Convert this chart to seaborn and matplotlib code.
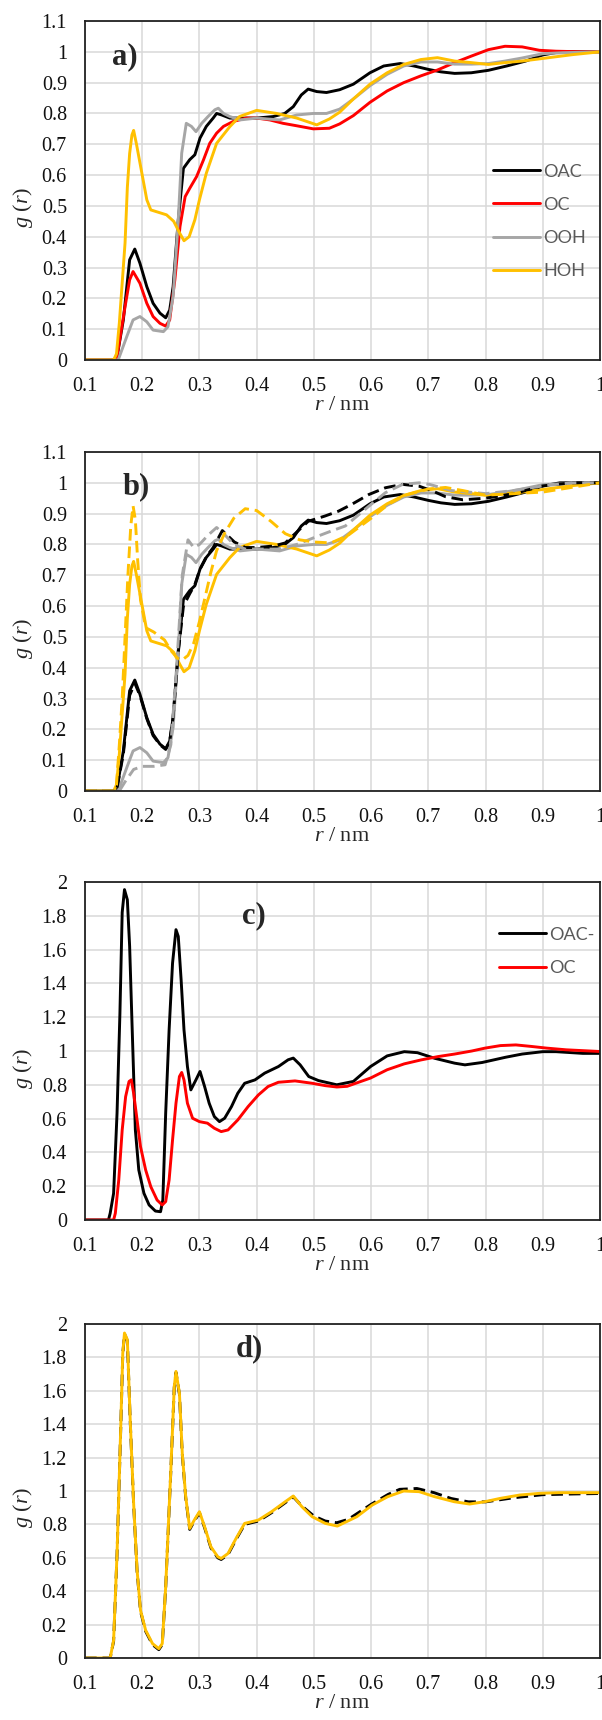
import numpy as np
import pandas as pd
import matplotlib
matplotlib.use("Agg")
import matplotlib.pyplot as plt
import seaborn as sns

# ---------------- data ----------------
# panel a (also the solid curves of panel b)
a_oac_r = [0.10, 0.155, 0.167, 0.178, 0.187, 0.196, 0.208, 0.219, 0.231, 0.241, 0.248, 0.254, 0.263, 0.272, 0.283,
           0.292, 0.301, 0.312, 0.324, 0.33, 0.339, 0.353, 0.371, 0.40, 0.429, 0.449, 0.464, 0.478, 0.49, 0.505,
           0.522, 0.545, 0.569, 0.598, 0.622, 0.651, 0.675, 0.70, 0.722, 0.746, 0.775, 0.805, 0.837, 0.87, 0.90,
           0.93, 0.96, 1.0]
a_oac_g = [0, 0, 0.13, 0.325, 0.36, 0.314, 0.238, 0.184, 0.152, 0.137, 0.162, 0.238, 0.455, 0.622, 0.65,
           0.666, 0.72, 0.758, 0.785, 0.80, 0.795, 0.785, 0.785, 0.785, 0.79, 0.80, 0.822, 0.86, 0.879, 0.871,
           0.868, 0.877, 0.895, 0.932, 0.954, 0.962, 0.954, 0.943, 0.935, 0.93, 0.932, 0.94, 0.954, 0.97, 0.99,
           1.0, 1.0, 1.0]

a_oc_r = [0.10, 0.155, 0.17, 0.178, 0.184, 0.196, 0.208, 0.219, 0.231, 0.241, 0.248, 0.257, 0.266, 0.275, 0.283,
          0.295, 0.307, 0.318, 0.33, 0.342, 0.359, 0.382, 0.40, 0.423, 0.446, 0.47, 0.499, 0.527, 0.545, 0.569,
          0.598, 0.628, 0.657, 0.687, 0.716, 0.746, 0.775, 0.805, 0.834, 0.864, 0.894, 0.923, 0.97, 1.0]
a_oc_g = [0, 0, 0.173, 0.26, 0.287, 0.249, 0.184, 0.141, 0.119, 0.11, 0.13, 0.26, 0.433, 0.53, 0.557,
          0.595, 0.649, 0.703, 0.736, 0.758, 0.774, 0.785, 0.785, 0.779, 0.768, 0.76, 0.75, 0.752, 0.766, 0.793,
          0.836, 0.873, 0.90, 0.922, 0.941, 0.965, 0.986, 1.007, 1.018, 1.016, 1.005, 1.002, 1.0, 1.0]

a_ooh_r = [0.10, 0.158, 0.173, 0.184, 0.196, 0.208, 0.219, 0.237, 0.245, 0.254, 0.263, 0.269, 0.277, 0.286, 0.294,
           0.304, 0.315, 0.327, 0.333, 0.342, 0.353, 0.371, 0.40, 0.44, 0.47, 0.499, 0.522, 0.545, 0.569, 0.598,
           0.628, 0.657, 0.687, 0.716, 0.746, 0.775, 0.805, 0.834, 0.864, 0.90, 0.935, 1.0]
a_ooh_g = [0, 0, 0.076, 0.13, 0.141, 0.124, 0.097, 0.092, 0.108, 0.206, 0.455, 0.671, 0.768, 0.758, 0.741,
           0.768, 0.79, 0.812, 0.817, 0.80, 0.79, 0.779, 0.785, 0.779, 0.795, 0.80, 0.80, 0.814, 0.847, 0.89,
           0.927, 0.954, 0.967, 0.967, 0.96, 0.96, 0.962, 0.97, 0.98, 0.994, 0.997, 1.0]

a_hoh_r = [0.10, 0.15, 0.155, 0.16, 0.165, 0.17, 0.174, 0.178, 0.182, 0.185, 0.19, 0.20, 0.208, 0.215, 0.2425,
           0.255, 0.266, 0.273, 0.282, 0.292, 0.30, 0.312, 0.33, 0.353, 0.37, 0.40, 0.435, 0.47, 0.505, 0.527,
           0.545, 0.569, 0.598, 0.628, 0.657, 0.687, 0.716, 0.746, 0.775, 0.805, 0.834, 0.864, 0.894, 0.923,
           0.953, 1.0]
a_hoh_g = [0, 0, 0.02, 0.12, 0.25, 0.38, 0.56, 0.67, 0.73, 0.745, 0.70, 0.60, 0.52, 0.487, 0.471,
           0.45, 0.41, 0.387, 0.40, 0.455, 0.52, 0.606, 0.703, 0.757, 0.79, 0.81, 0.80, 0.785, 0.763, 0.782,
           0.804, 0.847, 0.895, 0.932, 0.959, 0.975, 0.981, 0.97, 0.965, 0.959, 0.965, 0.97, 0.977, 0.984,
           0.991, 1.0]

# panel b dashed curves
b_oac_r = [0.10, 0.155, 0.167, 0.178, 0.187, 0.196, 0.208, 0.219, 0.231, 0.241, 0.248, 0.254, 0.263, 0.272,
           0.283, 0.292, 0.301, 0.312, 0.324, 0.34, 0.361, 0.38, 0.40, 0.43, 0.45, 0.47, 0.49, 0.519, 0.543,
           0.566, 0.596, 0.625, 0.655, 0.684, 0.708, 0.73, 0.76, 0.80, 0.85, 0.90, 0.95, 1.0]
b_oac_g = [0, 0, 0.12, 0.31, 0.35, 0.31, 0.235, 0.18, 0.15, 0.135, 0.16, 0.24, 0.45, 0.60,
           0.64, 0.67, 0.72, 0.76, 0.79, 0.845, 0.808, 0.79, 0.79, 0.795, 0.805, 0.84, 0.875, 0.892, 0.908,
           0.93, 0.962, 0.984, 0.995, 0.989, 0.973, 0.955, 0.945, 0.95, 0.965, 0.99, 1.0, 1.0]

b_ooh_r = [0.10, 0.16, 0.17, 0.185, 0.20, 0.22, 0.24, 0.25, 0.26, 0.27, 0.28, 0.29, 0.30, 0.315, 0.33, 0.345,
           0.36, 0.38, 0.40, 0.44, 0.47, 0.507, 0.531, 0.555, 0.596, 0.625, 0.655, 0.684, 0.702, 0.74, 0.80,
           0.85, 0.90, 0.95, 1.0]
b_ooh_g = [0, 0, 0.03, 0.07, 0.08, 0.08, 0.085, 0.15, 0.40, 0.70, 0.815, 0.79, 0.80, 0.83, 0.855, 0.83,
           0.80, 0.785, 0.785, 0.785, 0.80, 0.827, 0.844, 0.86, 0.924, 0.968, 0.995, 1.0, 0.995, 0.975, 0.965,
           0.975, 0.99, 1.0, 1.0]

b_hoh_r = [0.10, 0.15, 0.155, 0.16, 0.165, 0.17, 0.175, 0.18, 0.184, 0.188, 0.192, 0.197, 0.206, 0.22, 0.239,
           0.25, 0.262, 0.27, 0.28, 0.29, 0.30, 0.31, 0.32, 0.33, 0.345, 0.36, 0.38, 0.40, 0.425, 0.45, 0.475,
           0.50, 0.53, 0.56, 0.60, 0.63, 0.66, 0.70, 0.73, 0.76, 0.80, 0.85, 0.90, 0.95, 1.0]
b_hoh_g = [0, 0, 0.02, 0.15, 0.30, 0.50, 0.70, 0.86, 0.925, 0.88, 0.75, 0.62, 0.53, 0.516, 0.49,
           0.456, 0.43, 0.425, 0.44, 0.48, 0.55, 0.63, 0.71, 0.78, 0.84, 0.885, 0.916, 0.91, 0.875, 0.835, 0.815,
           0.808, 0.805, 0.83, 0.885, 0.93, 0.96, 0.98, 0.985, 0.975, 0.96, 0.965, 0.97, 0.985, 1.0]

# panel c
c_oac_r = [0.10, 0.141, 0.144, 0.15, 0.156, 0.161, 0.165, 0.169, 0.174, 0.178, 0.182, 0.188, 0.194, 0.203,
           0.212, 0.223, 0.232, 0.236, 0.241, 0.247, 0.253, 0.259, 0.263, 0.268, 0.273, 0.279, 0.285, 0.294,
           0.301, 0.309, 0.317, 0.326, 0.335, 0.344, 0.356, 0.367, 0.379, 0.397, 0.414, 0.438, 0.455, 0.464,
           0.476, 0.491, 0.508, 0.54, 0.569, 0.599, 0.628, 0.658, 0.681, 0.711, 0.746, 0.764, 0.794, 0.835,
           0.864, 0.90, 0.923, 0.97, 1.0]
c_oac_g = [0, 0, 0.04, 0.158, 0.632, 1.22, 1.82, 1.955, 1.895, 1.62, 1.18, 0.533, 0.296, 0.158,
           0.089, 0.053, 0.049, 0.118, 0.632, 1.125, 1.52, 1.718, 1.678, 1.42, 1.125, 0.908, 0.77, 0.83,
           0.879, 0.79, 0.691, 0.612, 0.582, 0.602, 0.671, 0.75, 0.809, 0.829, 0.869, 0.908, 0.948, 0.958,
           0.918, 0.849, 0.825, 0.80, 0.82, 0.908, 0.971, 0.996, 0.99, 0.957, 0.928, 0.918, 0.932, 0.963,
           0.982, 0.996, 0.996, 0.986, 0.986]

c_oc_r = [0.10, 0.15, 0.153, 0.159, 0.165, 0.171, 0.177, 0.181, 0.185, 0.191, 0.197, 0.206, 0.215, 0.226,
          0.235, 0.241, 0.247, 0.253, 0.259, 0.265, 0.269, 0.273, 0.279, 0.288, 0.30, 0.314, 0.326, 0.338,
          0.35, 0.367, 0.385, 0.403, 0.42, 0.438, 0.467, 0.497, 0.52, 0.54, 0.558, 0.599, 0.628, 0.658,
          0.687, 0.717, 0.746, 0.776, 0.799, 0.826, 0.853, 0.88, 0.907, 0.941, 1.0]
c_oc_g = [0, 0, 0.04, 0.237, 0.533, 0.73, 0.82, 0.829, 0.75, 0.592, 0.434, 0.296, 0.197, 0.118,
          0.089, 0.109, 0.237, 0.474, 0.691, 0.849, 0.873, 0.829, 0.691, 0.602, 0.582, 0.573, 0.543, 0.523,
          0.533, 0.592, 0.671, 0.74, 0.79, 0.815, 0.823, 0.809, 0.795, 0.787, 0.791, 0.84, 0.889, 0.924,
          0.947, 0.967, 0.982, 1.0, 1.017, 1.032, 1.036, 1.027, 1.017, 1.007, 0.997]

# panel d
d_hoh_r = [0.10, 0.144, 0.15, 0.156, 0.162, 0.166, 0.169, 0.174, 0.179, 0.185, 0.191, 0.197, 0.206, 0.218,
           0.229, 0.235, 0.241, 0.25, 0.256, 0.259, 0.265, 0.27, 0.276, 0.283, 0.291, 0.30, 0.309, 0.32, 0.332,
           0.338, 0.35, 0.364, 0.379, 0.403, 0.426, 0.45, 0.464, 0.479, 0.497, 0.52, 0.541, 0.575, 0.602,
           0.629, 0.657, 0.684, 0.711, 0.745, 0.772, 0.799, 0.826, 0.86, 0.894, 0.928, 1.0]
d_hoh_g = [0, 0, 0.106, 0.626, 1.326, 1.826, 1.946, 1.906, 1.426, 0.926, 0.526, 0.286, 0.166, 0.086,
           0.056, 0.086, 0.426, 1.126, 1.626, 1.716, 1.586, 1.226, 0.966, 0.776, 0.826, 0.876, 0.786, 0.666,
           0.606, 0.596, 0.626, 0.716, 0.806, 0.826, 0.876, 0.936, 0.97, 0.906, 0.846, 0.806, 0.79, 0.846,
           0.916, 0.966, 1.0, 0.996, 0.966, 0.936, 0.922, 0.936, 0.956, 0.976, 0.986, 0.99, 0.99]

d_ref_r = [0.10, 0.144, 0.15, 0.156, 0.162, 0.166, 0.169, 0.174, 0.179, 0.185, 0.191, 0.197, 0.206, 0.218,
           0.229, 0.235, 0.241, 0.25, 0.256, 0.259, 0.265, 0.27, 0.276, 0.283, 0.291, 0.30, 0.309, 0.32, 0.332,
           0.338, 0.35, 0.364, 0.379, 0.403, 0.426, 0.45, 0.464, 0.479, 0.50, 0.52, 0.54, 0.56, 0.60, 0.63,
           0.65, 0.68, 0.71, 0.74, 0.77, 0.80, 0.85, 0.90, 0.95, 1.0]
d_ref_g = [0, 0, 0.10, 0.62, 1.32, 1.82, 1.94, 1.90, 1.42, 0.92, 0.52, 0.28, 0.16, 0.08,
           0.05, 0.08, 0.42, 1.12, 1.62, 1.71, 1.58, 1.22, 0.96, 0.77, 0.82, 0.87, 0.78, 0.66,
           0.60, 0.59, 0.62, 0.71, 0.80, 0.82, 0.87, 0.93, 0.965, 0.91, 0.85, 0.82, 0.81, 0.83, 0.92, 0.98,
           1.01, 1.015, 0.99, 0.955, 0.935, 0.935, 0.96, 0.978, 0.982, 0.985]

x_ticks = [0.1, 0.2, 0.3, 0.4, 0.5, 0.6, 0.7, 0.8, 0.9, 1.0]
x_ticklabels = ["0.1", "0.2", "0.3", "0.4", "0.5", "0.6", "0.7", "0.8", "0.9", "1"]
y_ticks_ab = [0, 0.1, 0.2, 0.3, 0.4, 0.5, 0.6, 0.7, 0.8, 0.9, 1.0, 1.1]
y_ticklabels_ab = ["0", "0.1", "0.2", "0.3", "0.4", "0.5", "0.6", "0.7", "0.8", "0.9", "1", "1.1"]
y_ticks_cd = [0, 0.2, 0.4, 0.6, 0.8, 1.0, 1.2, 1.4, 1.6, 1.8, 2.0]
y_ticklabels_cd = ["0", "0.2", "0.4", "0.6", "0.8", "1", "1.2", "1.4", "1.6", "1.8", "2"]
panel_labels = ["a)", "b)", "c)", "d)"]

BLACK, RED, GRAY, GOLD = "#000000", "#ff0000", "#a6a6a6", "#ffc000"

# ---------------- style ----------------
sns.set_style("white")
plt.rcParams['font.family'] = ['Liberation Serif', 'DejaVu Serif']
plt.rcParams['mathtext.fontset'] = 'custom'
plt.rcParams['mathtext.rm'] = 'Liberation Serif'
plt.rcParams['mathtext.it'] = 'Liberation Serif:italic'

fig = plt.figure(figsize=(6.02, 17.2), dpi=100)
FH, FW = 1720.0, 602.0
LEFT, RIGHT = 85.0, 600.0


def make_ax(top, bot):
    return fig.add_axes([LEFT / FW, 1 - bot / FH, (RIGHT - LEFT) / FW, (bot - top) / FH])


def draw(ax, r, g, color, label=None, dashed=False):
    df = pd.DataFrame({"r": r, "g": g})
    kw = dict(linestyle=(0, (4, 2))) if dashed else dict(linestyle="-")
    sns.lineplot(data=df, x="r", y="g", ax=ax, color=color, linewidth=2.1, sort=False,
                 estimator=None, label=label, legend=False, **kw)


def style(ax, ymax, yt, ytl, label, lab_xy, height_px):
    ax.set_xlim(0.1, 1.0)
    ax.set_ylim(0, ymax)
    ax.set_xticks(x_ticks)
    ax.set_xticklabels(x_ticklabels)
    ax.set_yticks(yt)
    ax.set_yticklabels(ytl)
    ax.grid(True, color="#d9d9d9", linewidth=1.1)
    ax.set_axisbelow(True)
    for s in ax.spines.values():
        s.set_color("#222222")
        s.set_linewidth(1.3)
        s.set_visible(True)
    ax.tick_params(axis="x", length=0, pad=12, labelsize=14.5, colors="#111111")
    ax.tick_params(axis="y", length=0, pad=13, labelsize=14.5, colors="#111111")
    ax.set_xlabel(r"$r$ / nm", fontsize=16)
    ax.set_ylabel(r"$g$ ($r$)", fontsize=16)
    ax.xaxis.set_label_coords(0.5, -36 / height_px)
    ax.yaxis.set_label_coords(-50 / 515.0, 0.45)
    ax.text(lab_xy[0], lab_xy[1], label, fontsize=22, fontweight="bold", ha="left", va="center")


def legend(ax, anchor):
    h, l = ax.get_legend_handles_labels()
    leg = ax.legend(h, l, loc="center left", bbox_to_anchor=anchor, frameon=False,
                    borderpad=0, borderaxespad=0, handlelength=2.6, handletextpad=0.2,
                    labelspacing=0.95, prop={"family": "Lato", "size": 13})
    for t in leg.get_texts():
        t.set_color("#595959")


# panel a
ax_a = make_ax(21, 360)
draw(ax_a, a_oac_r, a_oac_g, BLACK, "OAC")
draw(ax_a, a_oc_r, a_oc_g, RED, "OC")
draw(ax_a, a_ooh_r, a_ooh_g, GRAY, "OOH")
draw(ax_a, a_hoh_r, a_hoh_g, GOLD, "HOH")
style(ax_a, 1.1, y_ticks_ab, y_ticklabels_ab, panel_labels[0], (0.148, 0.983), 339)
legend(ax_a, (0.792, 0.409))

# panel b
ax_b = make_ax(452, 791)
draw(ax_b, a_oac_r, a_oac_g, BLACK)
draw(ax_b, a_ooh_r, a_ooh_g, GRAY)
draw(ax_b, a_hoh_r, a_hoh_g, GOLD)
draw(ax_b, b_oac_r, b_oac_g, BLACK, dashed=True)
draw(ax_b, b_ooh_r, b_ooh_g, GRAY, dashed=True)
draw(ax_b, b_hoh_r, b_hoh_g, GOLD, dashed=True)
style(ax_b, 1.1, y_ticks_ab, y_ticklabels_ab, panel_labels[1], (0.166, 0.986), 339)

# panel c
ax_c = make_ax(882, 1220)
draw(ax_c, c_oac_r, c_oac_g, BLACK, "OAC-")
draw(ax_c, c_oc_r, c_oc_g, RED, "OC")
style(ax_c, 2.0, y_ticks_cd, y_ticklabels_cd, panel_labels[2], (0.374, 1.80), 338)
legend(ax_c, (0.804, 0.795))

# panel d
ax_d = make_ax(1324, 1658)
draw(ax_d, d_ref_r, d_ref_g, BLACK, dashed=True)
draw(ax_d, d_hoh_r, d_hoh_g, GOLD)
style(ax_d, 2.0, y_ticks_cd, y_ticklabels_cd, panel_labels[3], (0.364, 1.85), 334)

fig.savefig("out.png", dpi=100)
